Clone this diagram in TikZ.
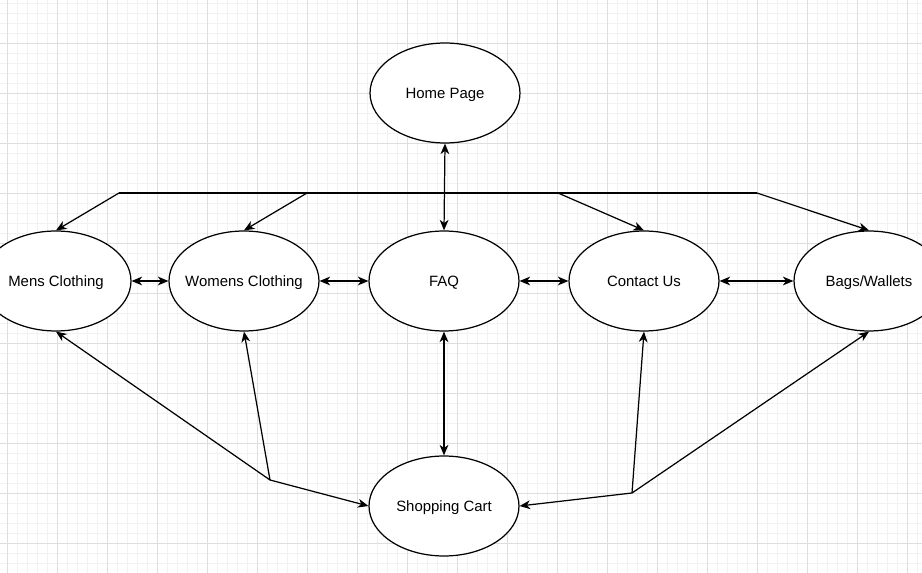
\documentclass[tikz,border=0pt]{standalone}
\usepackage{fontspec}
\setmainfont{Liberation Sans}
\definecolor{gridminor}{HTML}{F2F2F2}
\definecolor{gridmajor}{HTML}{DEDEDE}
\usetikzlibrary{shapes.geometric,arrows.meta}

\begin{document}
\begin{tikzpicture}[x=0.02cm,y=-0.02cm,>={Stealth[length=6pt,width=5pt,inset=1.8pt]},
    page/.style={draw,ellipse,line width=0.7pt,fill=white,minimum width=3cm,
      minimum height=2cm,inner sep=0pt,text height=1.6ex,text depth=0.4ex,
      font=\fontsize{8.5}{10}\selectfont,
      execute at begin node={\hbox to 0pt\bgroup\hss},
      execute at end node={\hss\egroup}},
    link/.style={line width=0.7pt}]
  \useasboundingbox (0,0) rectangle (922,573);
  \clip (0,0) rectangle (922,573);
  % ---------- background grid ----------------------------------
  \foreach \x in {7,17,...,917} \draw[gridminor,line width=0.35pt] (\x,0)--(\x,573);
  \foreach \y in {3,13,...,573} \draw[gridminor,line width=0.35pt] (0,\y)--(922,\y);
  \foreach \x in {7,57,...,907} \draw[gridmajor,line width=0.35pt] (\x,0)--(\x,573);
  \foreach \y in {43,93,...,543} \draw[gridmajor,line width=0.35pt] (0,\y)--(922,\y);
  % ---------- pages -------------------------------------------
  \node[page] (home)    at (445,93)  {Home Page};
  \node[page] (mens)    at (56,281)  {Mens Clothing};
  \node[page] (womens)  at (244,281) {Womens Clothing};
  \node[page] (faq)     at (444,281) {FAQ};
  \node[page] (contact) at (644,281) {Contact Us};
  \node[page] (bags)    at (869,281) {Bags/Wallets};
  \node[page] (cart)    at (444,506) {Shopping Cart};
  % ---------- top bus -------------------------------------------
  \coordinate (busmens)    at (119,193);
  \coordinate (buswomens)  at (307,193);
  \coordinate (buscontact) at (558,193);
  \coordinate (busbags)    at (757,193);
  \draw[link] (busmens) -- (busbags);
  \draw[link,->] (busmens) -- (mens.north);
  \draw[link,->] (buswomens) -- (womens.north);
  \draw[link,->] (buscontact) -- (contact.north);
  \draw[link,->] (busbags) -- (bags.north);
  % ---------- links between pages ---------------------------------
  \draw[link,<->] (home.south) -- (faq.north);
  \draw[link,<->] (mens.east) -- (womens.west);
  \draw[link,<->] (womens.east) -- (faq.west);
  \draw[link,<->] (faq.east) -- (contact.west);
  \draw[link,<->] (contact.east) -- (bags.west);
  \draw[link,<->] (faq.south) -- (cart.north);
  % ---------- cart joins --------------------------------------
  \coordinate (joinleft)  at (270,480);
  \coordinate (joinright) at (632,493);
  \draw[link,->] (joinleft) -- (mens.south);
  \draw[link,->] (joinleft) -- (womens.south);
  \draw[link,->] (joinleft) -- (cart.west);
  \draw[link,->] (joinright) -- (contact.south);
  \draw[link,->] (joinright) -- (bags.south);
  \draw[link,->] (joinright) -- (cart.east);
\end{tikzpicture}
\end{document}
